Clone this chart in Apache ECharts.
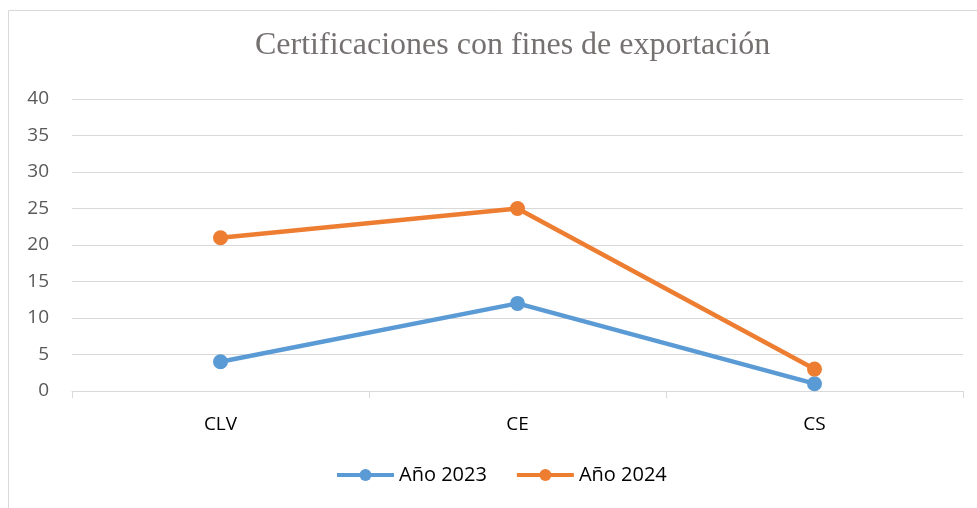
<!DOCTYPE html>
<html>
<head>
<meta charset="utf-8">
<script src="https://cdn.jsdelivr.net/npm/echarts@6/dist/echarts.min.js"></script>
<style>
  html, body { margin: 0; padding: 0; background: #fff; }
  #root { width: 977px; height: 508px; }
</style>
</head>
<body>
<div id="root"></div>
<script>
// datos del gráfico
const categorias = ['CLV', 'CE', 'CS'];
const nombres = ['Año 2023', 'Año 2024'];
const anio2023 = [4, 12, 1];
const anio2024 = [21, 25, 3];
const colores = ['#5b9bd5', '#ed7d31'];

const myChart = echarts.init(document.getElementById('root'));

const labelFont = '"Open Sans", "Noto Sans", sans-serif';

let option = {
    animation: false,
    color: colores,
    title: {
        text: 'Certificaciones con fines de exportación',
        left: 250,
        top: 25,
        textStyle: {
            fontFamily: '"Liberation Serif", "DejaVu Serif", serif',
            fontWeight: 'normal',
            fontSize: 32,
            color: '#767171'
        }
    },
    graphic: [{
        type: 'rect',
        shape: { x: 8.5, y: 10.5, width: 1000, height: 600 },
        style: { fill: 'none', stroke: '#d9d9d9', lineWidth: 1 },
        silent: true
    }],
    legend: {
        data: nombres,
        bottom: 18,
        left: 330,
        itemWidth: 57,
        itemHeight: 15,
        itemGap: 28,
        lineStyle: { width: 4 },
        textStyle: { fontFamily: labelFont, fontSize: 20, color: '#000' }
    },
    grid: { left: 72, right: 14, top: 99, bottom: 117, containLabel: false },
    xAxis: {
        type: 'category',
        data: categorias,
        boundaryGap: true,
        axisLine: { lineStyle: { color: '#d9d9d9', width: 1 } },
        axisTick: { show: true, length: 7, lineStyle: { color: '#d9d9d9' } },
        axisLabel: { fontFamily: labelFont, fontSize: 19, color: '#000', margin: 24 }
    },
    yAxis: {
        type: 'value',
        min: 0,
        max: 40,
        interval: 5,
        axisLine: { show: false },
        axisTick: { show: false },
        axisLabel: { fontFamily: labelFont, fontSize: 19, color: '#595959', margin: 23 },
        splitLine: { lineStyle: { color: '#d9d9d9', width: 1 } }
    },
    series: [anio2023, anio2024].map((valores, i) => ({
        name: nombres[i],
        type: 'line',
        data: valores,
        symbol: 'circle',
        symbolSize: 15,
        lineStyle: { width: 4.5, color: colores[i] },
        itemStyle: { color: colores[i] }
    }))
};

myChart.setOption(option);
</script>
</body>
</html>
